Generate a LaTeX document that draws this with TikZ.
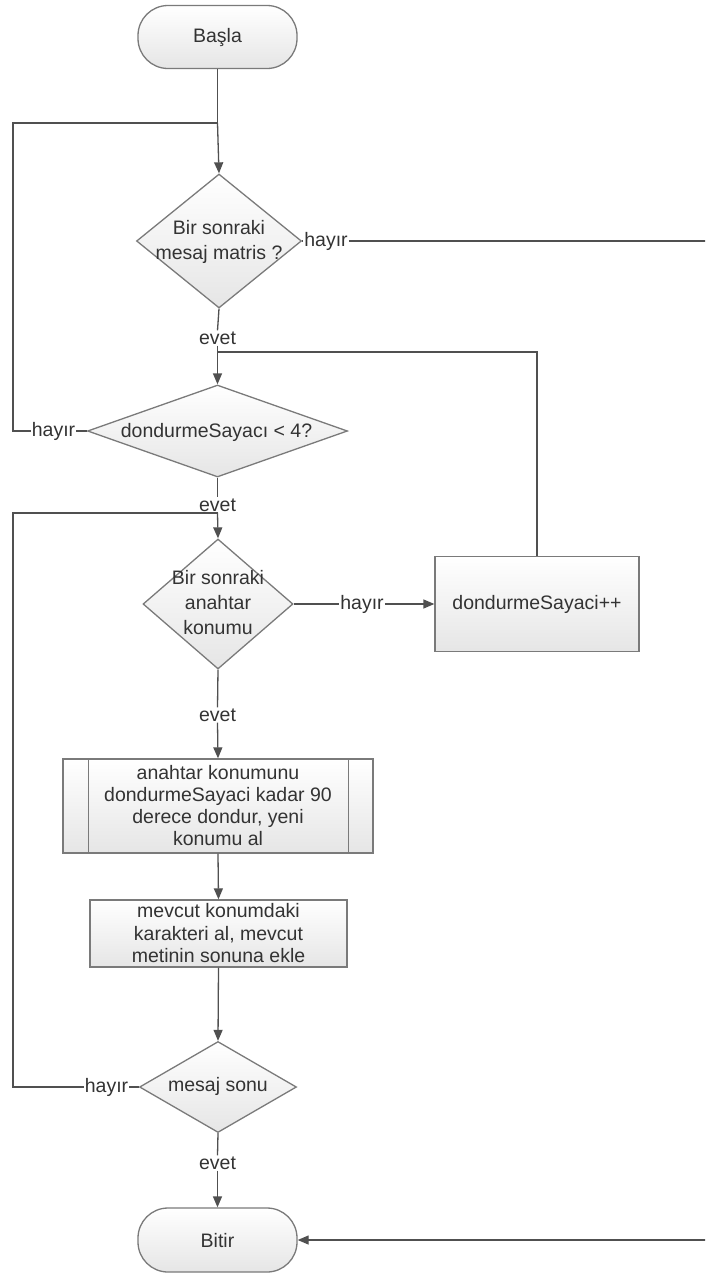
\documentclass[tikz,border=0pt]{standalone}
\usepackage{fontspec}
\setmainfont{Liberation Sans}
\usetikzlibrary{shapes.geometric,arrows.meta}
\definecolor{edgegray}{HTML}{505050}
\definecolor{boxline}{HTML}{7A7A7A}
\definecolor{inkgray}{HTML}{333333}
\begin{document}
\begin{tikzpicture}[x=1pt,y=-1pt,
  font=\fontsize{19.5}{23}\selectfont,
  base/.style={draw=boxline, line width=1.3pt, top color=white, bottom color=black!10,
    text=inkgray, align=center, inner sep=0pt},
  terminal/.style={base, rectangle, rounded corners=30pt, minimum width=159pt, minimum height=63pt},
  process/.style={base, rectangle},
  decision/.style={base, diamond},
  caption/.style={text=inkgray, align=center, inner sep=0pt},
  lbl/.style={text=inkgray, fill=white, inner sep=1pt},
  flow/.style={draw=edgegray, line width=1.3pt},
  arr/.style={flow, -{Triangle[length=11pt,width=9pt]}},
]
\useasboundingbox (0,0) rectangle (705,1275);
\clip (0,0) rectangle (705,1275);

% shapes
\node[terminal] (start) at (217.5,37) {Başla};

\node[decision, minimum width=165pt, minimum height=134pt] (d1) at (219,241) {};
\node[caption, font=\fontsize{19.5}{25}\selectfont] (d1t) at (219,242) {Bir sonraki\\mesaj matris ?};

\node[decision, minimum width=260pt, minimum height=92pt] (d2) at (217.5,431) {};
\node[caption] (d2t) at (216.5,432) {dondurmeSayacı < 4?};

\node[decision, minimum width=150pt, minimum height=130pt] (d3) at (218,604) {};
\node[caption, font=\fontsize{19.5}{25}\selectfont] (d3t) at (218,603) {Bir sonraki\\anahtar\\konumu};

\node[process, minimum width=204pt, minimum height=95pt] (inc) at (537,604) {dondurmeSayaci++};

\node[process, minimum width=310pt, minimum height=94pt,
      font=\fontsize{19.5}{22}\selectfont] (pp) at (218,806)
  {anahtar konumunu\\dondurmeSayaci kadar 90\\derece dondur, yeni\\konumu al};
\draw[draw=boxline, line width=1.3pt] ([xshift=26pt]pp.north west) -- ([xshift=26pt]pp.south west);
\draw[draw=boxline, line width=1.3pt] ([xshift=-25pt]pp.north east) -- ([xshift=-25pt]pp.south east);

\node[process, minimum width=257pt, minimum height=67pt,
      font=\fontsize{19.5}{22.5}\selectfont] (mv) at (218.5,933.5)
  {mevcut konumdaki\\karakteri al, mevcut\\metinin sonuna ekle};

\node[decision, minimum width=157pt, minimum height=91pt] (d4) at (218,1087) {};
\node[caption] (d4t) at (218,1086) {mesaj sonu};

\node[terminal, minimum height=64pt] (end) at (217.5,1240) {Bitir};

% branch labels
\node[lbl] (h1) at (326,241) {hayır};
\node[lbl] (e1) at (217.5,338) {evet};
\node[lbl] (h2) at (53.5,431) {hayır};
\node[lbl] (e2) at (217.5,505) {evet};
\node[lbl] (h3) at (362,604) {hayır};
\node[lbl] (e3) at (217.5,715) {evet};
\node[lbl] (h4) at (106.5,1087) {hayır};
\node[lbl] (e4) at (217.5,1163) {evet};

% junction points
\coordinate (j1) at (217.5,123);
\coordinate (j2) at (217.5,352);
\coordinate (j3) at (217.5,513);

% connectors
\draw[flow] (start.south) -- (j1);
\draw[arr] (j1) -- (d1.north);

\draw[flow] (d1.east) -- (h1.west);
\draw[arr] (h1.east) -- (712,241) |- (end.east);

\draw[flow] (d1.south) -- (e1.north);
\draw[arr] (e1.south) -- (d2.north);

\draw[flow] (d2.west) -- (h2.east);
\draw[flow] (h2.west) -- (13,431) -- (13,123) -- (j1);

\draw[flow] (d2.south) -- (e2.north);
\draw[arr] (e2.south) -- (d3.north);

\draw[flow] (d3.east) -- (h3.west);
\draw[arr] (h3.east) -- (inc.west);
\draw[flow] (inc.north) -- (inc.north |- j2) -- (j2);

\draw[flow] (d3.south) -- (e3.north);
\draw[arr] (e3.south) -- (pp.north);

\draw[arr] (pp.south) -- (mv.north);
\draw[arr] (mv.south) -- (d4.north);

\draw[flow] (d4.west) -- (h4.east);
\draw[flow] (h4.west) -- (13,1087) -- (13,513) -- (j3);

\draw[flow] (d4.south) -- (e4.north);
\draw[arr] (e4.south) -- (end.north);
\end{tikzpicture}
\end{document}
